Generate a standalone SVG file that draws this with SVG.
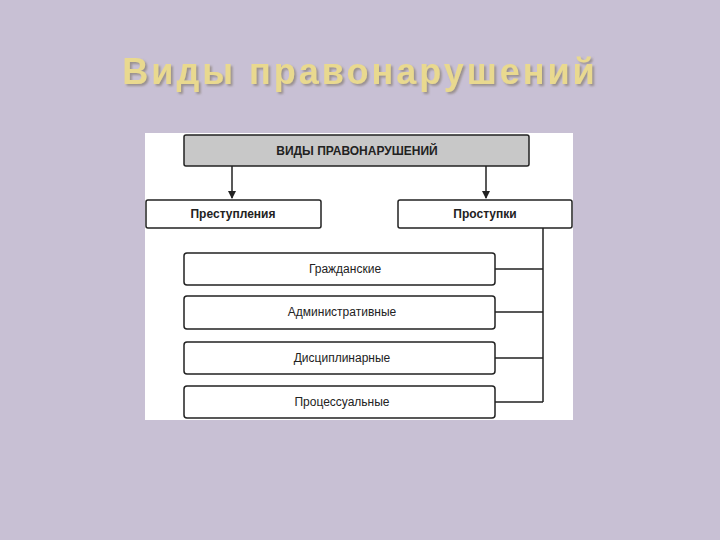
<svg xmlns="http://www.w3.org/2000/svg" width="720" height="540" viewBox="0 0 720 540">
<style>
.b{fill:#fff;stroke:#222;stroke-width:1.5}
.t{font-family:"Liberation Sans",Arial,sans-serif;font-size:12px;text-anchor:middle;fill:#222}
.bold{font-weight:bold}
.c{stroke:#222;stroke-width:1.5;fill:none}
</style>
<defs><marker id="a" markerWidth="8" markerHeight="8" refX="7" refY="4" orient="auto" markerUnits="userSpaceOnUse"><path d="M0,0 L8,4 L0,8 Z" fill="#222"/></marker>
<filter id="sh" x="-5%" y="-20%" width="110%" height="140%"><feDropShadow dx="2" dy="2" stdDeviation="1" flood-color="#7a7060" flood-opacity="0.6"/></filter></defs>
<rect width="720" height="540" fill="#c8c0d4"/>
<text x="360" y="84" font-family="Liberation Sans,Arial,sans-serif" font-size="36" font-weight="bold" letter-spacing="3" text-anchor="middle" fill="#e9d98f" filter="url(#sh)">Виды правонарушений</text>
<rect x="145" y="133" width="428" height="287" fill="#fff"/>
<g id="connectors">
<path class="c" d="M232,166 V198" marker-end="url(#a)"/>
<path class="c" d="M486,166 V198" marker-end="url(#a)"/>
<path class="c" d="M543,228 V402 M495,269 H543 M495,312 H543 M495,358 H543 M495,402 H543"/>
</g>
<g id="root"><rect x="184" y="135" width="345" height="31" rx="2" fill="#c8c8c8" stroke="#222" stroke-width="1.5"/><text class="t bold" x="357" y="155">ВИДЫ ПРАВОНАРУШЕНИЙ</text></g>
<g id="crimes"><rect class="b" x="146" y="200" width="175" height="28" rx="2"/><text class="t bold" x="233" y="218">Преступления</text></g>
<g id="misdeeds"><rect class="b" x="398" y="200" width="174" height="28" rx="2"/><text class="t bold" x="485" y="218">Проступки</text></g>
<g id="civil"><rect class="b" x="184" y="253" width="311" height="32" rx="3"/><text class="t" x="345" y="273">Гражданские</text></g>
<g id="admin"><rect class="b" x="184" y="296" width="311" height="33" rx="3"/><text class="t" x="342" y="316">Административные</text></g>
<g id="disc"><rect class="b" x="184" y="342" width="311" height="32" rx="3"/><text class="t" x="342" y="362">Дисциплинарные</text></g>
<g id="proc"><rect class="b" x="184" y="386" width="311" height="32" rx="3"/><text class="t" x="342" y="406">Процессуальные</text></g>
</svg>
